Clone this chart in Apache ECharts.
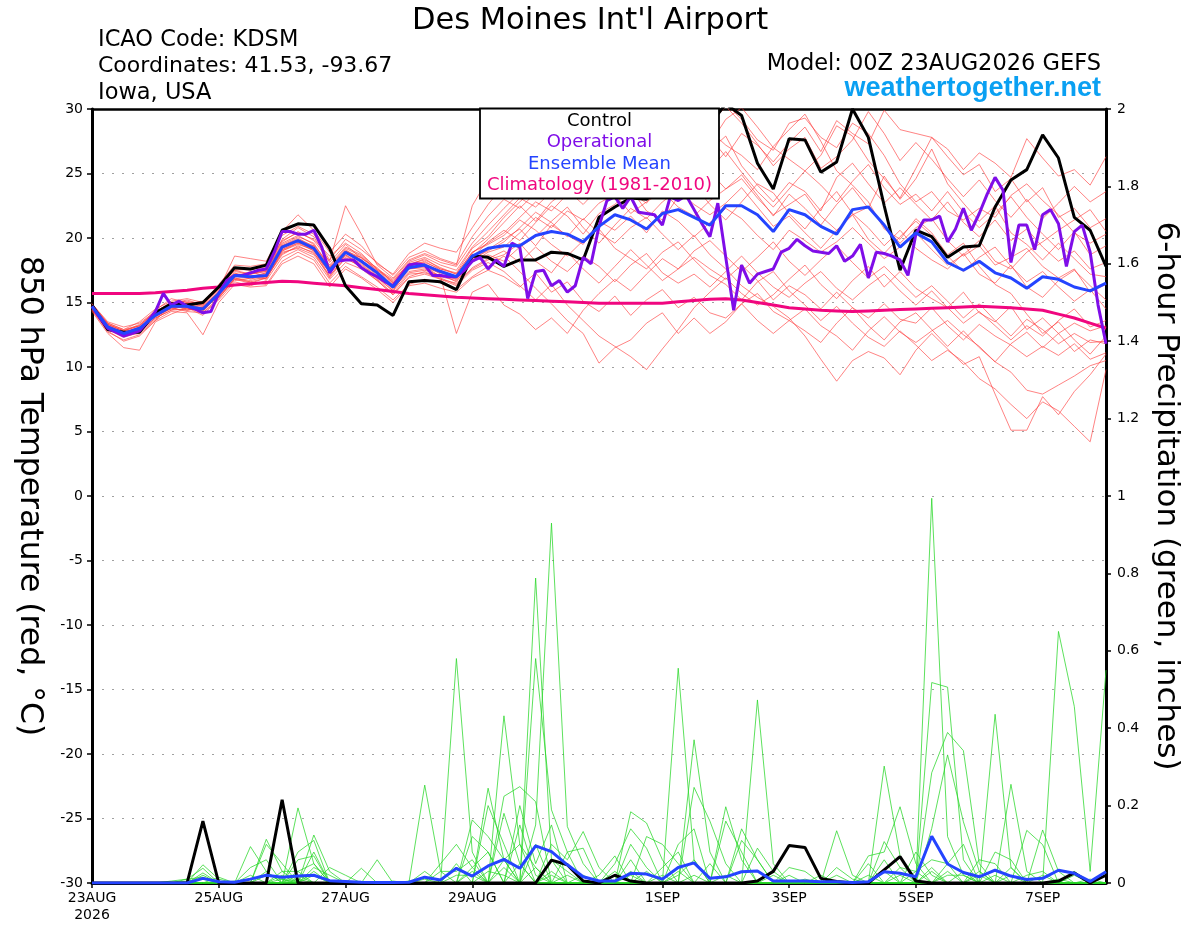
<!DOCTYPE html>
<html><head><meta charset="utf-8">
<script src="https://cdn.jsdelivr.net/npm/echarts@6/dist/echarts.min.js"></script>
<style>html,body{margin:0;padding:0;background:#fff}#c{width:1200px;height:927px}</style>
</head><body><div id="c"></div>
<script>
// ---- x axis ticks (hours since 23AUG 00Z) ----
const tickHours = [0,48,96,144,216,264,312,360];
const tickLabels = ['23AUG\n2026','25AUG','27AUG','29AUG','1SEP','3SEP','5SEP','7SEP'];

// ---- 850 hPa temperature (6-hourly unless noted) ----
const controlTemp = [14.8,12.9,12.7,12.7,14.2,14.9,14.8,15.0,16.2,17.7,17.6,17.9,20.6,
21.1,21.0,19.2,16.3,14.9,14.8,14.0,16.6,16.7,16.6,16.0,18.6,18.5,
17.8,18.3,18.3,18.9,18.8,18.3,21.6,22.4,23.1,23.0,24.0,25.5,27.0,
28.8,30.4,29.5,25.8,23.8,27.7,27.6,25.1,25.9,30.0,27.8,22.5,17.5,
20.6,20.1,18.5,19.3,19.4,22.4,24.5,25.3,28.0,26.2,21.6,20.6,17.8];
// operational run: 3-hourly
const operationalTemp = [14.7,13.8,13.0,12.7,12.4,12.6,12.8,13.5,14.3,15.7,14.8,15.1,14.7,
14.5,14.2,14.3,15.7,16.7,17.1,17.1,17.3,17.5,17.6,18.9,20.5,20.5,
20.3,20.3,20.6,19.3,17.3,18.2,18.3,18.3,17.7,17.3,17.0,16.6,16.3,
17.1,17.9,18.0,17.9,17.1,17.1,17.0,17.0,17.5,18.2,18.5,17.6,18.3,
17.8,19.6,19.3,15.3,17.4,17.5,16.3,16.7,15.8,16.3,18.5,18.0,20.9,
22.9,23.2,22.3,23.2,22.0,21.9,21.8,21.0,23.2,22.9,23.3,22.2,21.1,
20.1,22.7,18.5,14.4,17.9,16.5,17.2,17.4,17.6,18.9,19.2,19.9,19.4,
19.0,18.9,18.8,19.4,18.2,18.6,19.5,16.9,18.9,18.8,18.6,18.3,17.1,
20.3,21.4,21.4,21.7,19.7,20.7,22.3,20.6,21.9,23.4,24.7,23.7,18.1,
21.0,21.0,19.1,21.8,22.2,21.1,17.8,20.5,21.0,18.9,14.8,11.8];
const meanTemp = [14.7,13.1,12.6,13.0,14.0,14.7,14.7,14.5,15.7,17.1,17.0,17.1,19.3,
19.8,19.2,17.5,18.9,18.2,17.3,16.2,17.7,17.9,17.4,17.0,18.6,19.2,
19.4,19.4,20.2,20.5,20.3,19.7,20.9,21.8,21.4,20.7,21.9,22.2,21.6,
21.0,22.5,22.5,21.8,20.5,22.2,21.8,20.9,20.3,22.2,22.4,21.0,19.3,
20.4,19.7,18.1,17.5,18.2,17.3,16.9,16.1,17.0,16.8,16.2,15.9,16.5];
const climTemp = [15.7,15.7,15.7,15.7,15.75,15.85,15.95,16.1,16.2,16.35,16.45,16.55,16.65,
16.6,16.5,16.4,16.3,16.15,16.0,15.85,15.7,15.6,15.5,15.4,15.35,15.3,
15.25,15.2,15.15,15.1,15.05,15.0,14.95,14.95,14.95,14.95,14.95,15.05,15.15,
15.25,15.3,15.2,15.0,14.8,14.6,14.5,14.4,14.35,14.3,14.35,14.4,14.45,
14.5,14.55,14.6,14.65,14.7,14.65,14.6,14.5,14.4,14.1,13.8,13.4,13.0];

const memberTemp01 = [14.5,12.8,12.0,12.4,13.6,14.9,15.2,14.8,16.3,17.6,17.5,17.9,19.8,
20.4,19.9,18.6,19.6,18.8,17.6,16.8,18.2,18.7,18.1,17.8,19.6,21.0,
22.3,23.5,24.8,25.6,26.2,25.1,26.8,27.9,28.6,27.4,28.3,29.1,28.2,
29.6,30.4,29.2,27.6,26.8,28.9,29.3,27.8,27.0,28.9,28.1,26.4,24.2,
22.8,23.6,22.1,21.4,22.3,21.6,23.3,24.2,22.9,21.8,20.4,19.6,20.3];
const memberTemp02 = [14.9,13.4,12.9,13.2,14.4,15.3,15.0,14.9,16.0,18.6,18.4,18.2,20.5,
21.8,20.6,18.9,20.3,19.4,18.0,17.2,18.8,19.6,19.2,18.9,20.8,22.6,
24.1,25.3,24.6,26.0,27.3,26.4,25.7,26.9,28.2,29.0,27.6,26.8,28.4,
27.3,29.2,30.1,28.6,27.0,26.1,25.2,26.4,28.7,27.9,26.0,24.6,23.1,
25.4,27.8,26.9,25.3,26.6,25.8,24.7,27.7,26.2,24.8,25.3,24.1,26.3];
const memberTemp03 = [14.6,13.0,12.5,12.9,14.1,14.5,14.8,14.3,15.8,17.0,17.3,17.4,19.9,
20.8,20.1,18.1,19.5,18.4,17.7,16.5,17.9,18.4,17.6,17.3,19.2,20.1,
21.6,22.8,23.9,24.7,25.6,26.8,27.9,26.1,27.2,28.5,29.8,30.2,29.1,
28.3,27.2,26.4,25.3,27.1,28.4,29.6,27.5,25.2,24.1,22.8,20.7,19.9,
21.5,20.4,18.7,19.6,17.8,16.4,15.7,14.1,12.6,13.5,12.1,11.0,12.4];
const memberTemp04 = [14.8,13.3,12.8,13.3,14.2,14.9,14.4,14.6,15.4,16.8,16.5,16.9,18.7,
19.4,18.8,17.4,18.6,17.9,17.0,16.1,17.4,17.6,17.0,16.7,18.1,18.9,
19.3,20.4,21.6,20.8,22.1,21.4,22.7,23.4,21.9,22.8,23.6,22.4,21.7,
22.9,23.8,24.6,23.1,21.8,22.6,23.4,21.7,20.6,21.8,22.4,20.9,19.6,
20.8,21.5,19.8,18.6,19.4,17.9,18.5,19.2,17.8,16.9,17.6,15.8,16.4];
const memberTemp05 = [14.4,12.9,12.3,12.7,13.8,14.4,14.9,14.7,15.9,17.3,16.8,17.2,19.0,
19.6,19.4,17.2,18.8,18.5,17.4,16.4,17.6,17.7,17.3,16.9,18.5,19.7,
20.6,19.8,21.2,22.5,21.7,20.3,21.9,22.6,23.8,22.1,21.4,23.2,24.1,
22.6,21.4,22.8,24.2,23.5,21.9,20.7,22.3,23.6,21.9,20.8,19.4,20.6,
19.2,18.3,17.6,18.8,17.2,16.5,17.9,16.2,15.4,16.7,17.5,16.3,15.2];
const memberTemp06 = [14.7,13.2,12.7,13.1,13.9,14.6,14.3,14.2,15.2,16.6,16.3,16.7,18.5,
19.1,18.5,16.8,18.1,17.6,16.7,15.6,16.9,17.2,16.8,16.3,17.5,18.1,
17.4,16.3,15.2,16.4,14.8,13.6,12.4,11.6,10.8,9.8,11.4,12.9,14.6,
15.8,16.9,15.7,14.8,15.6,16.8,17.9,16.4,15.3,16.7,17.8,16.2,17.4,
16.1,15.3,14.6,15.8,14.2,13.5,14.7,12.9,13.8,12.6,13.4,12.8,13.2];
const memberTemp07 = [14.3,12.6,11.5,11.3,13.5,14.1,14.6,14.0,15.3,16.9,16.6,16.4,18.2,
18.9,18.3,16.5,17.8,17.0,16.2,15.2,16.4,16.8,16.5,16.0,17.0,17.8,
18.6,17.4,16.1,14.9,13.6,12.6,10.3,11.5,12.1,13.4,14.2,12.6,13.8,
12.6,13.5,14.9,15.7,14.3,13.6,12.8,11.9,13.4,14.6,13.2,12.1,13.5,
14.2,12.9,11.6,12.8,11.5,10.4,9.6,8.2,7.9,8.6,9.3,10.1,10.5];
const memberTemp08 = [14.9,13.5,13.1,13.4,14.3,15.0,14.9,15.1,16.2,17.5,17.2,17.6,19.4,
19.9,19.4,17.8,19.2,18.6,17.5,16.7,18.0,18.3,17.7,17.2,18.9,19.5,
20.2,21.4,20.6,19.5,18.6,19.8,20.7,19.2,18.4,17.6,18.9,19.7,18.3,
17.1,16.4,15.2,16.6,17.4,15.9,14.8,13.6,14.7,13.4,12.3,11.6,12.8,
11.7,10.5,11.3,10.4,9.1,8.3,7.1,6.0,7.3,6.6,5.4,4.2,9.8];
const memberTemp09 = [14.6,13.1,12.6,12.8,14.0,14.8,14.5,14.4,15.6,17.0,17.4,17.0,19.1,
19.7,19.0,17.6,19.0,18.3,17.2,16.0,17.6,18.0,17.4,16.8,18.4,19.0,
19.7,20.8,22.0,21.2,20.1,21.5,20.4,19.6,20.8,21.6,20.3,19.1,20.2,
18.7,17.6,16.3,15.4,14.7,13.8,12.4,10.6,8.9,10.5,11.2,10.7,9.4,
11.3,12.6,11.4,10.2,10.8,7.9,5.1,5.1,7.7,6.3,8.1,9.4,11.0];
const memberTemp10 = [14.8,13.4,12.9,13.5,14.5,15.1,15.3,15.0,16.4,17.9,17.8,18.0,20.2,
20.9,20.3,18.3,19.9,19.1,18.1,17.1,18.5,19.0,18.4,18.0,20.1,21.7,
23.0,22.3,23.5,24.4,23.2,24.6,25.8,24.3,25.1,26.4,25.2,24.0,25.9,
26.8,27.9,25.6,24.1,22.8,24.3,23.6,22.1,24.7,25.8,24.2,22.7,23.9,
22.6,21.4,22.8,21.2,20.1,21.4,19.8,20.7,19.3,18.2,19.0,17.6,18.1];
const memberTemp11 = [14.5,13.0,12.4,12.6,13.7,14.6,14.7,14.6,15.5,17.2,17.1,16.8,19.0,
19.5,19.1,17.0,18.7,18.0,17.0,15.9,17.7,17.9,17.2,16.6,18.2,18.7,
18.2,19.3,20.1,21.3,22.4,20.8,19.6,21.0,22.3,21.5,22.8,23.7,22.6,
21.8,22.7,23.9,22.4,20.9,21.7,20.4,19.2,20.6,21.8,19.9,18.8,20.1,
21.3,20.2,18.6,17.4,18.5,19.3,17.8,16.6,17.4,16.2,15.1,16.0,14.5];
const memberTemp12 = [14.7,13.1,12.5,13.0,14.2,14.7,14.6,14.3,15.6,17.0,16.9,17.3,19.2,
19.8,19.2,17.4,18.9,18.1,17.1,16.3,17.6,17.8,17.0,12.6,15.8,16.4,
14.8,14.1,12.9,13.8,12.6,14.4,15.7,16.8,15.9,17.2,18.4,17.6,19.0,
19.8,18.6,17.4,18.5,19.7,18.2,17.1,18.3,19.4,18.1,16.9,17.8,16.6,
15.4,16.3,15.1,13.8,14.9,13.6,12.4,13.7,12.9,11.8,12.6,11.9,12.0];
const memberTemp13 = [14.8,13.2,12.7,13.0,14.1,14.8,15.0,14.7,15.8,17.4,17.2,17.5,19.6,
20.2,19.5,17.9,19.3,18.7,17.6,16.6,18.1,18.5,17.9,17.5,19.3,20.5,
21.8,23.1,22.4,23.6,24.9,23.8,24.7,25.9,24.6,26.1,27.3,25.8,26.9,
27.8,26.3,28.1,27.2,25.9,27.4,28.6,26.7,29.1,28.1,27.3,29.9,28.4,
28.1,27.8,26.3,24.9,25.7,23.6,24.6,22.8,23.9,21.6,22.3,20.8,21.5];
const memberTemp14 = [14.6,13.0,12.6,13.1,14.0,14.5,14.4,14.6,15.5,16.9,16.7,17.0,19.1,
19.6,19.0,17.3,18.7,17.8,16.9,15.9,17.3,17.5,17.1,16.8,18.3,19.1,
19.9,20.7,19.4,21.0,20.2,19.5,21.3,20.6,21.7,20.4,22.1,21.3,20.1,
21.2,22.3,21.5,20.2,19.1,20.6,19.8,18.9,19.7,20.8,19.6,18.4,19.3,
20.4,19.1,17.9,18.7,19.8,18.2,17.6,18.9,19.7,20.6,21.4,22.2,20.5];
const memberTemp15 = [14.4,12.7,12.1,12.5,13.6,14.3,14.2,12.5,15.0,16.4,16.2,16.3,18.0,
18.6,18.0,16.2,17.6,16.9,16.0,15.0,16.3,16.5,16.1,15.8,16.9,17.5,
17.0,16.2,17.3,15.8,16.6,15.1,14.3,15.5,14.0,15.2,16.0,14.6,15.4,
14.2,13.8,14.9,13.6,12.6,13.6,14.5,13.2,12.4,11.3,12.8,13.9,12.7,
11.9,12.8,13.6,12.5,11.6,10.4,11.8,12.7,11.5,12.6,11.2,12.1,11.8];
const memberTemp16 = [14.9,13.3,12.8,13.2,14.3,15.0,15.1,14.8,16.1,17.5,17.6,17.7,19.7,
20.5,19.8,18.2,22.5,20.3,17.9,16.9,18.3,18.8,18.3,17.9,22.5,24.6,
26.0,24.0,25.2,26.4,25.1,27.2,28.3,27.5,28.9,29.6,28.4,29.3,27.9,
28.8,30.2,28.9,27.3,25.6,26.9,27.8,25.4,26.3,27.6,29.8,28.1,26.0,
27.4,26.1,24.6,23.2,24.5,22.9,21.6,23.0,21.5,22.7,24.0,22.8,23.6];
const memberTemp17 = [14.7,13.1,12.7,13.0,13.9,14.6,14.6,14.2,15.4,16.7,16.9,16.9,18.9,
19.2,18.7,17.1,18.4,17.8,16.8,15.7,17.2,17.3,16.9,16.4,17.7,18.4,
19.0,18.1,19.3,18.2,17.4,18.6,17.8,16.6,17.9,18.8,17.3,16.5,17.2,
16.2,17.4,18.6,17.3,16.2,15.4,16.5,17.4,16.1,15.2,16.3,17.2,15.9,
14.8,15.9,14.6,13.4,14.3,13.2,12.1,13.2,12.4,13.6,14.5,13.1,13.6];
const memberTemp18 = [14.6,13.0,12.5,12.9,14.0,14.8,14.8,14.6,15.9,17.2,17.0,17.3,19.4,
20.0,19.3,17.7,19.1,18.3,17.3,16.3,17.8,18.2,17.5,17.0,18.8,19.9,
21.2,22.5,21.3,22.8,23.7,22.6,23.9,24.8,23.5,22.7,24.4,25.6,24.2,
25.1,23.8,24.9,23.3,21.7,23.4,22.3,21.0,22.6,23.9,22.3,24.8,23.0,
24.6,26.9,24.2,22.7,21.3,22.5,20.4,19.5,18.3,19.6,18.4,17.2,17.0];
const memberTemp19 = [14.8,13.3,12.8,13.2,14.1,14.8,14.9,14.5,15.8,17.2,17.2,17.4,19.5,
20.1,19.6,17.7,19.0,18.5,17.5,16.5,18.0,18.1,17.6,17.2,18.9,19.6,
20.4,21.6,22.8,22.1,23.4,24.7,23.2,24.5,25.7,24.3,26.2,27.5,26.1,
25.3,26.7,25.1,23.6,22.4,23.8,25.2,24.1,22.8,24.4,25.7,23.9,22.6,
23.4,22.1,23.6,22.0,20.8,21.9,23.2,21.6,20.3,19.1,20.5,18.7,19.4];
const memberTemp20 = [14.5,12.9,12.4,12.8,13.8,14.4,14.5,14.4,15.5,16.8,16.6,16.9,18.8,
19.3,18.9,16.9,18.5,17.7,16.7,15.6,17.0,17.4,16.8,16.5,17.6,18.3,
18.7,19.6,18.2,17.3,18.9,17.6,16.5,17.8,19.1,17.9,16.7,17.6,18.5,
17.6,16.8,17.9,16.7,15.2,16.3,15.6,14.5,15.8,14.6,13.8,14.9,13.7,
13.4,14.6,13.2,12.1,13.3,12.4,11.7,10.8,11.6,10.9,11.8,10.6,11.1];

// ---- 6-hour precipitation (inches) ----
const controlPrecip = [0,0,0,0,0,0,0,0.16,0,0,0,0,0.215,
0,0,0,0,0,0,0,0,0,0,0,0,0,
0,0,0,0.059,0.047,0.005,0,0.02,0.005,0,0,0,0,
0,0,0,0.005,0.03,0.097,0.092,0.012,0.004,0,0,0.034,0.068,
0.005,0,0,0,0,0,0,0,0,0.005,0.026,0,0.02];
const meanPrecip = [0,0,0,0,0,0,0,0.012,0.003,0.002,0.01,0.02,0.015,
0.018,0.02,0.006,0.004,0.002,0.001,0.001,0.002,0.015,0.008,0.038,0.018,0.044,
0.061,0.038,0.096,0.081,0.047,0.016,0.005,0.005,0.025,0.023,0.01,0.04,0.052,
0.012,0.016,0.029,0.031,0.005,0.005,0.005,0.003,0.003,0.001,0.003,0.029,0.025,
0.016,0.121,0.049,0.027,0.016,0.033,0.018,0.009,0.012,0.033,0.025,0.004,0.029];

const memberPrecip01 = [0,0,0,0,0,0,0,0.047,0.01,0,0,0,0,
0.194,0.05,0,0,0,0,0,0,0,0,0,0,0,
0,0,0.15,0.93,0.146,0.05,0,0,0,0,0,0,0,
0,0,0,0,0,0,0,0,0,0,0,0,0,
0,0.994,0.12,0.02,0,0,0,0,0,0,0,0,0];
const memberPrecip02 = [0,0,0,0,0,0,0.01,0.038,0,0,0.094,0.03,0,
0,0,0,0,0,0,0,0,0,0,0.58,0.08,0,
0,0,0.1,0,0,0,0,0,0.06,0,0,0,0,
0,0,0,0,0,0,0,0,0,0,0,0.107,0.04,
0,0,0,0,0,0,0,0,0,0.65,0.456,0.03,0.55];
const memberPrecip03 = [0,0,0,0,0,0,0,0,0,0,0,0.113,0.03,
0,0,0,0,0,0,0,0,0.253,0.03,0,0,0,
0,0,0.788,0.06,0,0,0,0,0,0,0,0.1,0.14,
0,0,0,0,0,0,0,0,0,0,0,0,0,
0,0.518,0.506,0.06,0,0,0,0,0,0,0,0,0];
const memberPrecip04 = [0,0,0,0,0,0,0,0.026,0,0,0,0,0,
0,0.124,0.03,0,0,0,0,0,0,0,0,0,0,
0.432,0.1,0,0,0,0,0,0,0,0,0,0.555,0.06,
0,0,0,0,0,0,0,0,0,0,0,0,0,
0,0.285,0.389,0.342,0.05,0,0,0,0,0,0,0,0];
const memberPrecip05 = [0,0,0,0,0,0,0,0,0,0,0,0.1,0.05,
0,0,0,0,0,0,0,0,0,0,0,0,0.245,
0.06,0,0.58,0.189,0.08,0,0,0,0,0,0,0,0,
0,0,0,0.473,0.05,0,0,0,0,0,0,0,0,
0,0,0,0,0,0.436,0.04,0,0,0,0,0,0];
const memberPrecip06 = [0,0,0,0,0,0,0,0,0,0,0,0,0,
0.08,0.11,0,0,0,0.06,0,0,0,0,0,0,0,
0.224,0.249,0.21,0,0,0,0,0,0,0,0,0,0.37,
0.08,0,0,0,0,0,0,0,0,0,0,0.302,0.07,
0,0.141,0.331,0.158,0.03,0,0,0,0,0,0,0,0];
const memberPrecip07 = [0,0,0,0,0,0.005,0.01,0.015,0,0,0,0,0,
0,0.08,0,0,0,0,0,0,0,0,0,0.163,0.12,
0.06,0,0,0,0,0,0,0,0.184,0.155,0.06,0,0,
0,0,0,0,0,0,0,0,0,0,0,0,0,
0,0,0.05,0,0,0,0.255,0.03,0,0,0,0,0];
const memberPrecip08 = [0,0,0,0,0,0,0,0,0,0,0.04,0.06,0,
0.06,0.07,0,0,0.038,0,0,0,0,0,0,0,0,
0,0.2,0.05,0.15,0,0,0,0,0,0.12,0.1,0.05,0,
0,0.197,0.06,0,0,0,0,0,0.135,0.02,0,0,0,
0,0,0,0,0,0,0,0,0.137,0.03,0,0,0];
const memberPrecip09 = [0,0,0,0,0,0,0,0,0,0,0,0,0.03,
0.03,0.05,0,0,0,0,0,0,0,0.05,0.1,0.04,0,
0.18,0.05,0,0,0,0,0,0,0,0,0,0,0.247,
0.16,0.05,0,0,0,0,0,0,0,0,0,0,0,
0.03,0.06,0.05,0.1,0,0.08,0.06,0,0,0,0,0,0];
const memberPrecip10 = [0,0,0,0,0,0,0,0,0,0,0,0,0,
0,0,0.04,0.02,0,0,0,0,0.03,0,0,0.12,0.08,
0,0,0,0.1,0.06,0.133,0.04,0,0,0,0,0,0,
0,0,0.11,0.06,0,0,0,0,0,0,0.07,0.08,0.197,
0.05,0,0,0,0,0,0,0.136,0.099,0,0,0,0];
const memberPrecip11 = [0,0,0,0,0,0,0,0,0.015,0,0,0,0,
0,0.04,0.02,0,0,0,0,0,0,0,0.05,0,0.2,
0.1,0,0,0,0,0,0,0.05,0.14,0.09,0,0,0,
0,0.16,0.08,0,0,0.04,0.03,0,0,0,0,0,0,
0,0,0,0,0.06,0.05,0,0,0.02,0,0,0,0];
const memberPrecip12 = [0,0,0,0,0,0,0,0,0,0,0,0,0,
0.03,0,0,0,0,0,0,0,0,0.03,0.03,0.06,0,
0,0.15,0.02,0,0.08,0.09,0,0,0,0,0.04,0.08,0,
0,0,0,0.09,0.03,0,0,0,0,0,0,0.06,0,
0.08,0.02,0,0,0,0,0,0,0,0,0.03,0,0.02];
const memberPrecip13 = [0,0,0,0,0,0,0.005,0.01,0,0,0,0,0.02,
0,0.02,0,0,0,0,0,0,0,0,0,0.04,0.08,
0,0,0,0.06,0.03,0,0,0,0.1,0.04,0,0,0,
0.05,0,0.14,0.06,0,0,0,0.02,0,0,0.05,0,0.04,
0.03,0,0,0,0.03,0,0.04,0,0,0,0,0,0];
const memberPrecip14 = [0,0,0,0,0,0,0,0,0,0.005,0,0.03,0,
0.02,0,0,0,0,0,0,0,0,0,0,0,0,
0.06,0.1,0.04,0,0,0,0.02,0.07,0,0,0,0.02,0.06,
0,0,0,0,0,0.02,0,0,0.04,0.01,0,0,0,
0,0,0.02,0.02,0,0,0,0.02,0.03,0,0,0,0];
const memberPrecip15 = [0,0,0,0,0,0,0,0,0,0,0,0.02,0.01,
0,0,0,0,0,0,0,0.005,0,0,0.02,0.02,0,
0,0.05,0,0.02,0,0,0,0,0.02,0,0.02,0,0,
0,0,0,0,0.02,0,0,0,0,0,0,0.03,0,
0,0.04,0,0,0.02,0,0,0,0,0.01,0,0,0];
const memberPrecip16 = [0,0,0,0,0,0,0,0.02,0,0,0,0,0,
0,0.03,0,0,0,0,0.005,0,0,0,0,0,0.03,
0.02,0,0,0,0.02,0,0,0.03,0,0,0,0.03,0,
0,0,0,0,0,0,0.01,0,0,0,0,0,0.02,
0,0,0,0.03,0,0,0,0,0,0,0.02,0,0];
const memberPrecip17 = [0,0,0,0,0,0,0,0,0,0,0.02,0,0.01,
0,0,0,0,0,0,0,0,0,0,0,0.03,0,
0,0,0.04,0,0,0.02,0,0,0,0.03,0,0,0,
0,0.02,0,0,0,0,0,0,0,0,0.02,0,0,
0,0,0.03,0,0,0.02,0,0,0,0,0,0,0];
const memberPrecip18 = [0,0,0,0,0,0,0,0,0,0,0,0,0,
0.01,0,0,0,0,0,0,0,0.01,0,0,0,0,
0.04,0,0,0.03,0,0,0,0,0.03,0,0,0,0.02,
0,0,0,0,0,0,0,0,0.02,0,0,0,0,
0,0.03,0,0,0,0,0.02,0,0,0,0,0.01,0];

const memberTemps = [memberTemp01,memberTemp02,memberTemp03,memberTemp04,memberTemp05,memberTemp06,memberTemp07,memberTemp08,memberTemp09,memberTemp10,
  memberTemp11,memberTemp12,memberTemp13,memberTemp14,memberTemp15,memberTemp16,memberTemp17,memberTemp18,memberTemp19,memberTemp20];
const memberPrecips = [memberPrecip01,memberPrecip02,memberPrecip03,memberPrecip04,memberPrecip05,memberPrecip06,memberPrecip07,memberPrecip08,memberPrecip09,
  memberPrecip10,memberPrecip11,memberPrecip12,memberPrecip13,memberPrecip14,memberPrecip15,memberPrecip16,memberPrecip17,memberPrecip18];

// ---- build ----
const FONT = 'DejaVu Sans';
const pairs = (arr, step) => arr.map((v, i) => [i * step, v]);
const lineSeries = (name, arr, step, yIdx, color, width) => ({
  name, type: 'line', yAxisIndex: yIdx, data: pairs(arr, step),
  symbol: 'none', showSymbol: false, silent: true, clip: true,
  lineStyle: { color, width }, emphasis: { disabled: true }
});

const series = [];
memberTemps.forEach((m, i) => series.push(lineSeries('T member ' + (i + 1), m, 6, 0, 'rgba(255,60,60,0.8)', 0.8)));
memberPrecips.forEach((m, i) => series.push(lineSeries('P member ' + (i + 1), m, 6, 1, 'rgba(40,215,40,0.95)', 0.8)));
series.push(lineSeries('Climatology (1981-2010)', climTemp, 6, 0, '#f0067f', 3));
series.push(lineSeries('Control', controlTemp, 6, 0, '#000000', 3));
series.push(lineSeries('Operational', operationalTemp, 3, 0, '#7f0de8', 3));
series.push(lineSeries('Ensemble Mean', meanTemp, 6, 0, '#2444ff', 3));
series.push(lineSeries('Control precip', controlPrecip, 6, 1, '#000000', 3));
series.push(lineSeries('Ensemble Mean precip', meanPrecip, 6, 1, '#2444ff', 3));

const chart = echarts.init(document.getElementById('c'), null, { renderer: 'canvas' });
chart.setOption({
  animation: false,
  backgroundColor: '#ffffff',
  grid: { left: 92, right: 94, top: 109, bottom: 44, show: false },
  xAxis: [{
    type: 'value', min: 0, max: 384,
    axisLine: { show: true, onZero: false, lineStyle: { color: '#000', width: 3 } },
    axisTick: { show: true, customValues: tickHours, length: 5, lineStyle: { color: '#000', width: 1.5 } },
    axisLabel: { show: true, customValues: tickHours, margin: 7, color: '#000', fontFamily: FONT, fontSize: 14, lineHeight: 17,
      formatter: v => { const i = tickHours.indexOf(v); return i >= 0 ? tickLabels[i] : ''; } },
    splitLine: { show: false }
  }, {
    type: 'value', min: 0, max: 384, position: 'top',
    axisLine: { show: true, onZero: false, lineStyle: { color: '#000', width: 2.5 } },
    axisTick: { show: false }, axisLabel: { show: false }, splitLine: { show: false }
  }],
  yAxis: [
    { type: 'value', min: -30, max: 30, interval: 5, position: 'left',
      name: '850 hPa Temperature (red, °C)', nameLocation: 'middle', nameRotate: -90, nameGap: 47,
      nameTextStyle: { fontFamily: FONT, fontSize: 31.5, color: '#000' },
      axisLine: { show: true, onZero: false, lineStyle: { color: '#000', width: 3 } },
      axisTick: { show: true, length: 5, lineStyle: { color: '#000', width: 1.5 } },
      axisLabel: { color: '#000', fontFamily: FONT, fontSize: 14, margin: 9 },
      splitLine: { show: true, lineStyle: { color: '#a0a0a0', width: 1.2, type: [2, 8] } } },
    { type: 'value', min: 0, max: 2, interval: 0.2, position: 'right',
      name: '6-hour Precipitation (green, inches)', nameLocation: 'middle', nameRotate: -90, nameGap: 44,
      nameTextStyle: { fontFamily: FONT, fontSize: 31, color: '#000' },
      axisLine: { show: true, onZero: false, lineStyle: { color: '#000', width: 3 } },
      axisTick: { show: true, length: 5, lineStyle: { color: '#000', width: 1.5 } },
      axisLabel: { color: '#000', fontFamily: FONT, fontSize: 14, margin: 11,
        formatter: v => String(Math.round(v * 10) / 10) },
      splitLine: { show: false } }
  ],
  series,
  graphic: [
    { type: 'text', x: 590, y: 21, z: 100, style: { text: "Des Moines Int'l Airport", fontFamily: FONT, fontSize: 30.5, fill: '#000', align: 'center', verticalAlign: 'middle' } },
    { type: 'text', x: 98, y: 40, z: 100, style: { text: 'ICAO Code: KDSM', fontFamily: FONT, fontSize: 22.5, fill: '#000', align: 'left', verticalAlign: 'middle' } },
    { type: 'text', x: 98, y: 66, z: 100, style: { text: 'Coordinates: 41.53, -93.67', fontFamily: FONT, fontSize: 22, fill: '#000', align: 'left', verticalAlign: 'middle' } },
    { type: 'text', x: 98, y: 93, z: 100, style: { text: 'Iowa, USA', fontFamily: FONT, fontSize: 22.5, fill: '#000', align: 'left', verticalAlign: 'middle' } },
    { type: 'text', x: 1101, y: 64, z: 100, style: { text: 'Model: 00Z 23AUG2026 GEFS', fontFamily: FONT, fontSize: 22.5, fill: '#000', align: 'right', verticalAlign: 'middle' } },
    { type: 'text', x: 1101, y: 89, z: 100, style: { text: 'weathertogether.net', fontFamily: 'Liberation Sans', fontWeight: 'bold', fontSize: 27, fill: '#0aa0f2', align: 'right', verticalAlign: 'middle' } },
    { type: 'rect', z: 100, shape: { x: 480, y: 108.5, width: 239, height: 90 }, style: { fill: '#fff', stroke: '#000', lineWidth: 1.8 } },
    { type: 'text', x: 599.5, y: 121.5, z: 101, style: { text: 'Control', fontFamily: FONT, fontSize: 18, fill: '#000', align: 'center', verticalAlign: 'middle' } },
    { type: 'text', x: 599.5, y: 142.5, z: 101, style: { text: 'Operational', fontFamily: FONT, fontSize: 18, fill: '#7f0de8', align: 'center', verticalAlign: 'middle' } },
    { type: 'text', x: 599.5, y: 164, z: 101, style: { text: 'Ensemble Mean', fontFamily: FONT, fontSize: 18, fill: '#2444ff', align: 'center', verticalAlign: 'middle' } },
    { type: 'text', x: 599.5, y: 185.5, z: 101, style: { text: 'Climatology (1981-2010)', fontFamily: FONT, fontSize: 18, fill: '#f0067f', align: 'center', verticalAlign: 'middle' } }
  ]
});
</script>
</body></html>
